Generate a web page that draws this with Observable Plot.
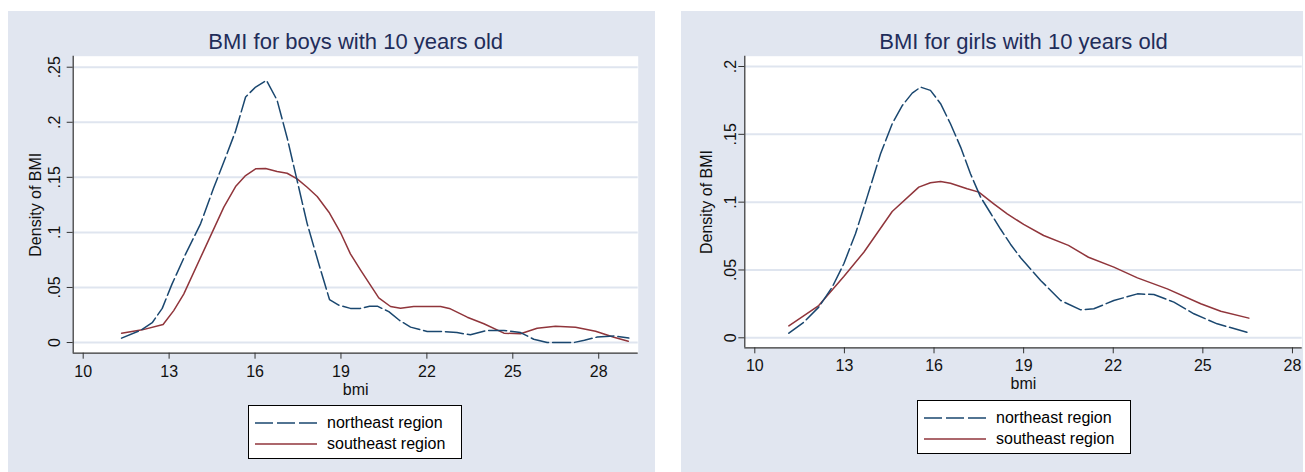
<!DOCTYPE html>
<html><head><meta charset="utf-8">
<script src="https://cdn.jsdelivr.net/npm/d3@7"></script>
<script src="https://cdn.jsdelivr.net/npm/@observablehq/plot@0.6"></script>
<style>
body{margin:0;background:#fff;font-family:"Liberation Sans",Arial,sans-serif;}
#page{position:relative;width:1305px;height:472px;overflow:hidden;background:#fff;}
#page svg.plot{position:absolute;}
.legend{position:absolute;background:#fff;border:1px solid #000;box-sizing:border-box;font-size:16px;color:#000;}
.legend .row{position:absolute;left:0;height:20px;display:flex;align-items:center;}
.legend svg{display:block;}
.legend span{margin-left:10px;white-space:nowrap;}
</style></head>
<body><div id="page"></div>
<script>
// ---- data ----
const regions = ["northeast region", "southeast region"];
const xTicks = [10, 13, 16, 19, 22, 25, 28];
const yTicksBoys = [0, 0.05, 0.1, 0.15, 0.2, 0.25];
const yTicksGirls = [0, 0.05, 0.1, 0.15, 0.2];
const titles = ["BMI for boys with 10 years old", "BMI for girls with 10 years old"];
const xLabel = "bmi";
const yLabel = "Density of BMI";

const boysNE_bmi  = [11.34,12.0,12.41,12.76,13.10,13.57,14.10,14.55,14.97,15.32,15.67,16.02,16.40,16.77,17.12,17.47,17.82,18.23,18.60,18.92,19.33,19.68,20.00,20.27,20.67,21.05,21.43,22.01,22.59,23.05,23.52,24.10,24.69,25.27,25.73,26.20,27.13,27.50,27.95,28.53,29.05];
const boysNE_dens = [0.004,0.011,0.018,0.031,0.053,0.080,0.108,0.140,0.168,0.192,0.223,0.232,0.238,0.220,0.186,0.147,0.108,0.071,0.039,0.034,0.031,0.031,0.033,0.033,0.028,0.020,0.014,0.010,0.010,0.009,0.007,0.011,0.011,0.009,0.003,0.000,0.000,0.002,0.005,0.006,0.004];
const boysSE_bmi  = [11.34,12.06,12.79,13.16,13.51,14.21,14.91,15.32,15.67,16.02,16.37,16.77,17.12,17.47,17.82,18.17,18.58,18.98,19.33,19.68,20.32,20.73,21.08,21.54,22.48,22.82,23.41,23.99,24.69,25.27,25.85,26.49,27.19,27.89,28.53,29.03];
const boysSE_dens = [0.0085,0.0115,0.0163,0.029,0.044,0.0835,0.123,0.1416,0.1516,0.1577,0.158,0.1553,0.1537,0.1486,0.141,0.1326,0.1183,0.1001,0.0805,0.066,0.0406,0.0327,0.0312,0.0327,0.0327,0.0306,0.023,0.017,0.0085,0.0079,0.013,0.0148,0.0139,0.0103,0.0048,0.0012];
const girlsNE_bmi  = [11.14,11.64,12.14,12.59,12.98,13.37,13.76,14.21,14.60,14.94,15.27,15.55,15.88,16.22,16.55,16.89,17.22,17.56,17.89,18.23,18.56,18.90,19.57,20.24,20.91,21.35,22.02,22.81,23.36,24.03,24.70,25.48,26.54];
const girlsNE_dens = [0.0034,0.0115,0.0226,0.0373,0.0546,0.0767,0.1037,0.1357,0.1578,0.1713,0.1804,0.1848,0.1824,0.1726,0.1578,0.1406,0.1209,0.1037,0.092,0.080,0.069,0.059,0.0423,0.0275,0.0206,0.0214,0.0275,0.0324,0.0319,0.0263,0.0177,0.0103,0.0037];
const girlsSE_bmi  = [11.14,12.14,12.98,13.65,14.60,15.49,15.88,16.22,16.55,17.11,17.50,18.00,18.45,19.00,19.67,20.50,21.17,22.02,22.81,23.81,24.93,25.60,26.54];
const girlsSE_dens = [0.0088,0.0238,0.0452,0.0631,0.0931,0.1111,0.1143,0.1153,0.114,0.1099,0.1074,0.0988,0.0914,0.0836,0.0754,0.0681,0.0594,0.0521,0.0442,0.0361,0.0251,0.0196,0.0145];

// ---- styles ----
const NAVY = "#1a476f", MAROON = "#90353b", BG = "#e1e6f0", GRID = "#dfe5ef", AXIS = "#333";
const DASH = "18,4";
const fmt = d => d === 0 ? "0" : String(d).replace(/^0/, "");
const rows = (xs, ys) => xs.map((x, i) => ({bmi: x, density: ys[i]}));

function panel(cfg) {
  const ne = rows(cfg.neX, cfg.neY), se = rows(cfg.seX, cfg.seY);
  const svg = Plot.plot({
    width: cfg.width, height: cfg.height,
    marginLeft: cfg.ml, marginRight: cfg.mr, marginTop: cfg.mt, marginBottom: cfg.mb,
    style: {background: BG, fontFamily: '"Liberation Sans", Arial, sans-serif', fontSize: "16px", color: "#111", overflow: "visible"},
    x: {domain: cfg.xDomain, ticks: xTicks},
    y: {domain: cfg.yDomain, ticks: cfg.yTicks},
    marks: [
      Plot.frame({fill: "white", stroke: null}),
      Plot.gridY(cfg.yTicks, {stroke: GRID, strokeOpacity: 1, strokeWidth: 2}),
      Plot.axisX(xTicks, {tickSize: 6, tickPadding: 6, stroke: AXIS, fill: "#111", label: null, fontSize: 16}),
      Plot.axisY(cfg.yTicks, {tickSize: 6, stroke: AXIS, tickFormat: () => "", label: null}),
      Plot.text(cfg.yTicks, {y: d => d, text: fmt, frameAnchor: "left", dx: -cfg.yTickOffset, rotate: -90, textAnchor: "middle", lineAnchor: "middle", fontSize: 16, fill: "#111"}),
      Plot.ruleX([cfg.xDomain[0]], {stroke: AXIS, strokeWidth: 1.2}),
      Plot.ruleY([cfg.yDomain[0]], {stroke: AXIS, strokeWidth: 1.2}),
      Plot.text([xLabel], {frameAnchor: "bottom", dy: cfg.xLabelDy, lineAnchor: "middle", fontSize: 16, fill: "#111"}),
      Plot.text([yLabel], {frameAnchor: "left", dx: -cfg.yLabelOffset, rotate: -90, textAnchor: "middle", lineAnchor: "middle", fontSize: 16, fill: "#111"}),
      Plot.text([cfg.title], {frameAnchor: "top", dy: -14, lineAnchor: "middle", fontSize: 22, fill: "#1f2d5a"}),
      Plot.line(se, {x: "bmi", y: "density", stroke: MAROON, strokeWidth: 1.5}),
      Plot.line(ne, {x: "bmi", y: "density", stroke: NAVY, strokeWidth: 1.5, strokeDasharray: DASH})
    ]
  });
  svg.classList.add("plot");
  svg.style.left = cfg.left + "px";
  svg.style.top = cfg.top + "px";
  return svg;
}

function legend(left, top) {
  const div = document.createElement("div");
  div.className = "legend";
  Object.assign(div.style, {left: left + "px", top: top + "px", width: "214px", height: "54px"});
  const styles = [{stroke: NAVY, dash: DASH}, {stroke: MAROON, dash: null}];
  regions.forEach((r, i) => {
    const row = document.createElement("div");
    row.className = "row";
    row.style.top = (i === 0 ? 6.5 : 28) + "px";
    row.style.left = "6px";
    row.innerHTML = `<svg width="62" height="20"><line x1="0" x2="62" y1="10" y2="10" stroke="${styles[i].stroke}" stroke-width="1.5" ${styles[i].dash ? `stroke-dasharray="${styles[i].dash}"` : ""}/></svg><span>${r}</span>`;
    div.appendChild(row);
  });
  return div;
}

const page = document.getElementById("page");
page.appendChild(panel({
  left: 8, top: 11, width: 647, height: 461,
  ml: 64.7, mr: 17.3, mt: 44.7, mb: 119.3,
  xDomain: [9.651, 29.378], yDomain: [-0.0097, 0.26], yTicks: yTicksBoys,
  yTickOffset: 18.5, yLabelOffset: 37.5, xLabelDy: 36.5,
  neX: boysNE_bmi, neY: boysNE_dens, seX: boysSE_bmi, seY: boysSE_dens, title: titles[0]
}));
page.appendChild(panel({
  left: 681, top: 11, width: 622, height: 461,
  ml: 63.3, mr: 1.3, mt: 44.7, mb: 124.7,
  xDomain: [9.665, 28.326], yDomain: [-0.00737, 0.2076], yTicks: yTicksGirls,
  yTickOffset: 13.5, yLabelOffset: 37.5, xLabelDy: 36.5,
  neX: girlsNE_bmi, neY: girlsNE_dens, seX: girlsSE_bmi, seY: girlsSE_dens, title: titles[1]
}));
page.appendChild(legend(248, 405));
page.appendChild(legend(917, 400));
</script></body></html>
